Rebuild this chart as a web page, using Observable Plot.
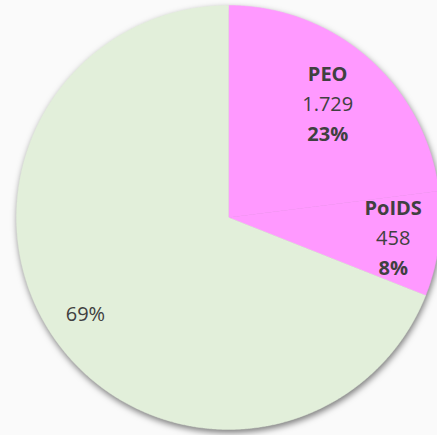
<!DOCTYPE html>
<html>
<head>
<meta charset="utf-8">
<script src="https://cdn.jsdelivr.net/npm/d3@7"></script>
<script src="https://cdn.jsdelivr.net/npm/@observablehq/plot@0.6"></script>
<style>
  html, body { margin: 0; padding: 0; background: #fafafa; }
  #chart svg { display: block; background: #fafafa; }
  #chart svg g.pie-slices { filter: drop-shadow(1px 3px 3px rgba(0,0,0,0.5)); }
</style>
</head>
<body>
<div id="chart"></div>
<script>
// ---- data ----
const categories = ["PEO", "PoIDS", "Other"];
const shares = [23, 8, 69];                 // percent (slice sizes)
const valueLabels = ["1.729", "458", ""];   // absolute values shown
const showName = [true, true, false];
const colors = ["#ff99ff", "#ff99ff", "#e2efda"];

// ---- layout ----
const W = 437, H = 435;
const cx = 228, cy = 217, R = 212;

const total = d3.sum(shares);
const pie = d3.pie().sort(null).value(d => d.share);
const rows = categories.map((c, i) => ({name: c, share: shares[i], value: valueLabels[i], color: colors[i], showName: showName[i]}));
const arcs = pie(rows);

// polygon points for each slice (angles from 12 o'clock, clockwise)
const pts = [];
arcs.forEach(a => {
  const n = Math.max(8, Math.ceil((a.endAngle - a.startAngle) / 0.005));
  pts.push({name: a.data.name, color: a.data.color, x: 0, y: 0});
  for (let k = 0; k <= n; k++) {
    const t = a.startAngle + (a.endAngle - a.startAngle) * k / n;
    pts.push({name: a.data.name, color: a.data.color, x: R * Math.sin(t), y: R * Math.cos(t)});
  }
  pts.push({name: a.data.name, color: a.data.color, x: 0, y: 0});
});

// labels (1 data unit = 1 pixel; y up)
const labelR = [150, 166, 173];
const lineGap = 30;
const labels = [];
arcs.forEach((a, i) => {
  const m = (a.startAngle + a.endAngle) / 2;
  const x = labelR[i] * Math.sin(m), y = labelR[i] * Math.cos(m);
  const pct = Math.round(a.data.share / total * 100) + "%";
  if (a.data.showName) {
    labels.push({x, y: y + lineGap, text: a.data.name, bold: true});
    labels.push({x, y: y, text: a.data.value, bold: false});
    labels.push({x, y: y - lineGap, text: pct, bold: true});
  } else {
    labels.push({x, y, text: pct, bold: false});
  }
});

const font = "'Open Sans', 'Noto Sans', sans-serif";

const chart = Plot.plot({
  width: W, height: H,
  margin: 0,
  style: {background: "#fafafa", fontFamily: font},
  x: {domain: [-cx, W - cx], range: [0, W], axis: null},
  y: {domain: [-(H - cy), cy], range: [H, 0], axis: null},
  marks: [
    Plot.line(pts, {x: "x", y: "y", z: "name", fill: "color", stroke: "color", strokeWidth: 0.5, curve: "linear", className: "pie-slices"}),
    Plot.text(labels.filter(d => d.bold), {x: "x", y: "y", text: "text", fontSize: 20, fontWeight: "bold", fill: "#404040", fontFamily: font}),
    Plot.text(labels.filter(d => !d.bold), {x: "x", y: "y", text: "text", fontSize: 20, fill: "#404040", fontFamily: font})
  ]
});
document.getElementById("chart").appendChild(chart);
</script>
</body>
</html>
